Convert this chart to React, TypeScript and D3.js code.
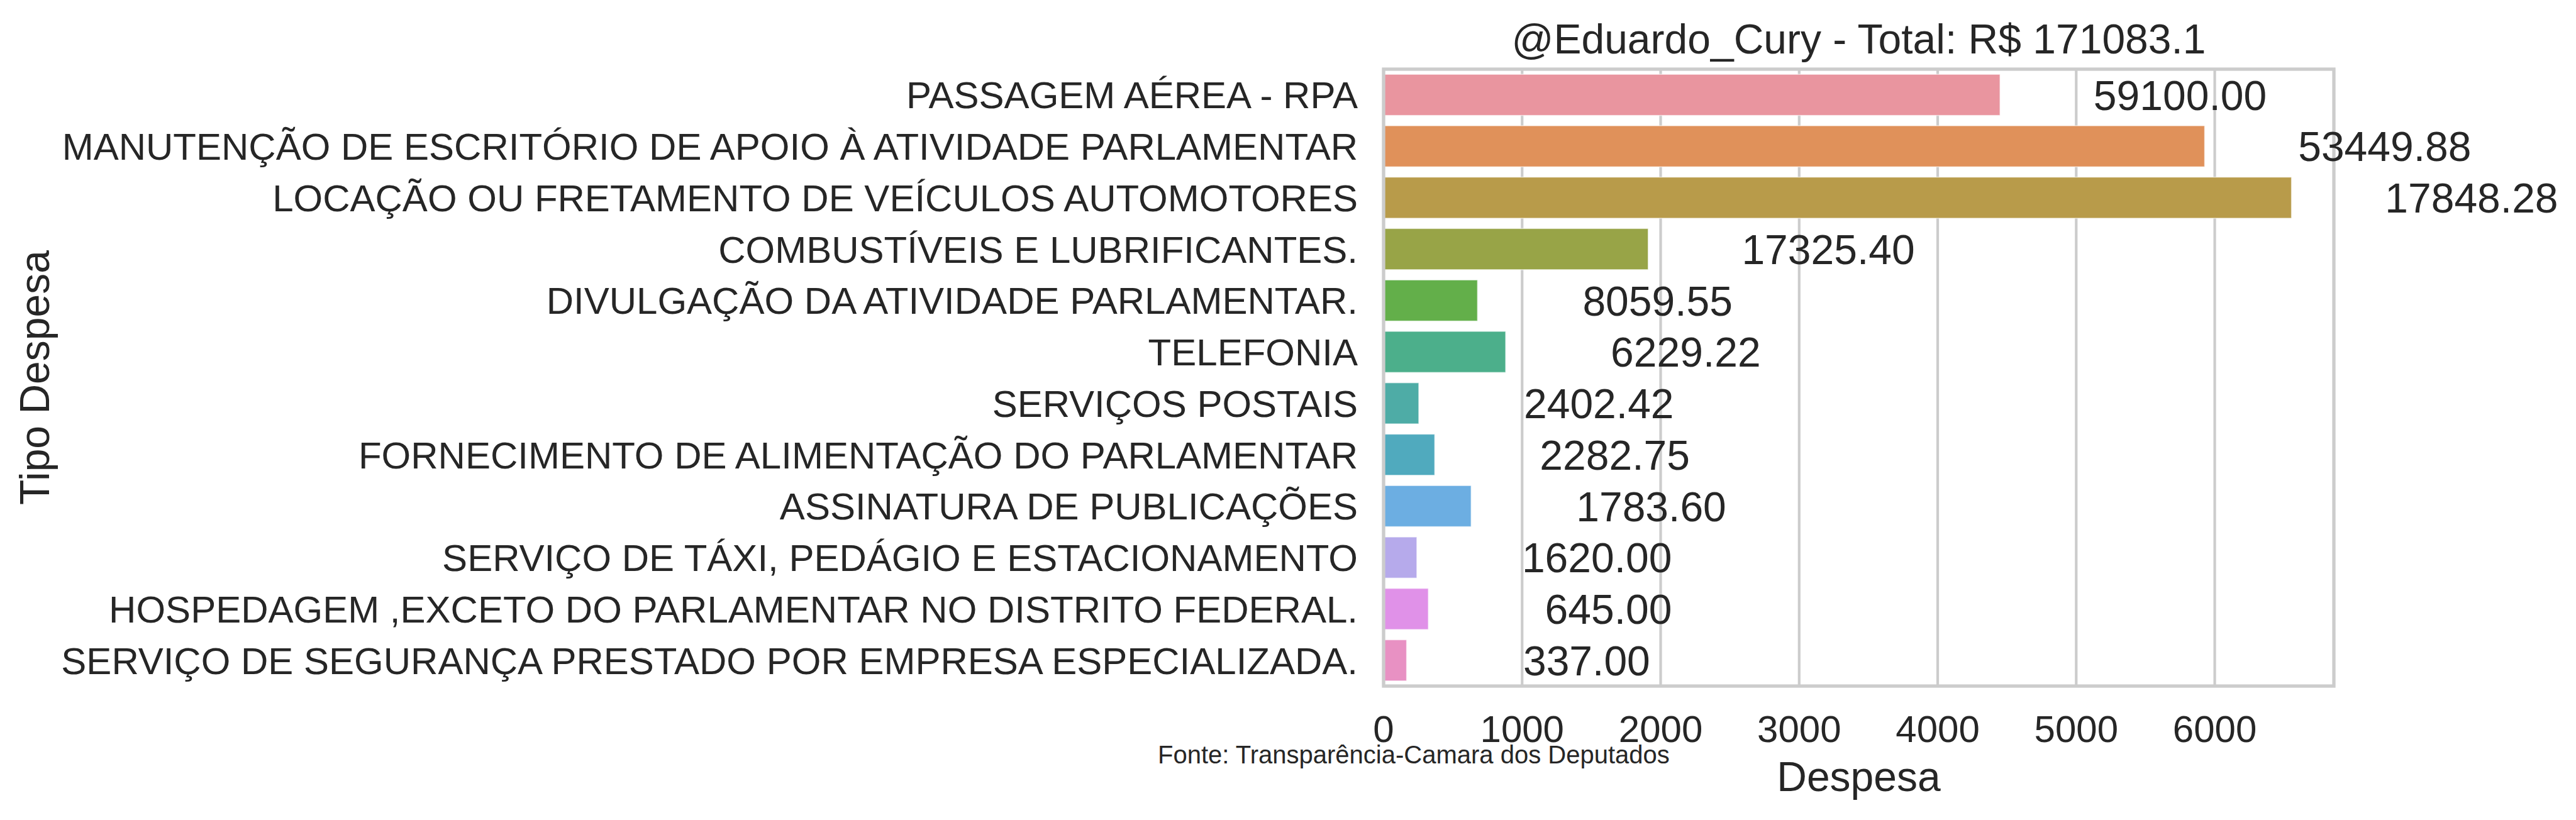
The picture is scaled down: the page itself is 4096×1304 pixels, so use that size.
// App.tsx - horizontal bar chart of expense types (seaborn-like look)
import React from 'react';
import * as d3 from 'd3';

// --- Data ---
const categories = [
  'PASSAGEM AÉREA - RPA',
  'MANUTENÇÃO DE ESCRITÓRIO DE APOIO À ATIVIDADE PARLAMENTAR',
  'LOCAÇÃO OU FRETAMENTO DE VEÍCULOS AUTOMOTORES',
  'COMBUSTÍVEIS E LUBRIFICANTES.',
  'DIVULGAÇÃO DA ATIVIDADE PARLAMENTAR.',
  'TELEFONIA',
  'SERVIÇOS POSTAIS',
  'FORNECIMENTO DE ALIMENTAÇÃO DO PARLAMENTAR',
  'ASSINATURA DE PUBLICAÇÕES',
  'SERVIÇO DE TÁXI, PEDÁGIO E ESTACIONAMENTO',
  'HOSPEDAGEM ,EXCETO DO PARLAMENTAR NO DISTRITO FEDERAL.',
  'SERVIÇO DE SEGURANÇA PRESTADO POR EMPRESA ESPECIALIZADA.',
];
// bar lengths
const barValues = [4450, 5927, 6554, 1910, 678, 881, 254, 369, 632, 240, 323, 166];
// totals printed next to bars
const totalLabels = ['59100.00', '53449.88', '17848.28', '17325.40', '8059.55', '6229.22', '2402.42', '2282.75', '1783.60', '1620.00', '645.00', '337.00'];
const barColors = ['#e9959f', '#e0915a', '#b89b4a', '#98a447', '#63af4a', '#4caf8b', '#4eaca6', '#50aabe', '#6caee2', '#b6aaeb', '#e091e8', '#e891c3'];
const xTicks = [0, 1000, 2000, 3000, 4000, 5000, 6000];
const xMax = 6860;
const labelOffset = 1300; // labels centered this far (in data units) right of the bar end
const titleText = '@Eduardo_Cury - Total: R$ 171083.1';
const sourceText = 'Fonte: Transparência-Camara dos Deputados';

// --- Layout ---
const W = 4096, H = 1304;
const left = 2200, right = 3711, top = 110, bottom = 1091;
const FONT = "Arial, 'Liberation Sans', sans-serif";
const INK = '#262626';
const fsTick = 60, fsBig = 66, fsSrc = 40;

export default function App() {
  const x = d3.scaleLinear().domain([0, xMax]).range([left, right]);
  const y = d3.scaleBand<string>().domain(categories).range([top, bottom]).paddingInner(0.2).paddingOuter(0.1);
  const bw = y.bandwidth();
  const midX = (left + right) / 2;

  return (
    <div style={{ position: 'absolute', left: 0, top: 0 }}>
      <svg width={W} height={H} style={{ display: 'block', background: '#fff' }} fontFamily={FONT}>
        {/* grid */}
        {xTicks.map(t => (
          <line key={'g' + t} x1={x(t)} x2={x(t)} y1={top} y2={bottom} stroke="#cccccc" strokeWidth={4.2} />
        ))}
        {/* bars */}
        {categories.map((c, i) => (
          <rect key={c} x={x(0)} y={y(c)} width={x(barValues[i]) - x(0)} height={bw}
            fill={barColors[i]} stroke="#ffffff" strokeOpacity={0.6} strokeWidth={1.5} />
        ))}
        {/* frame */}
        <rect x={left} y={top} width={right - left} height={bottom - top} fill="none" stroke="#cccccc" strokeWidth={5.3} />
        {/* value labels */}
        {categories.map((c, i) => (
          <text key={'v' + c} x={x(barValues[i] + labelOffset)} y={(y(c) as number) + bw / 2 + fsBig * 0.358}
            textAnchor="middle" fontSize={fsBig} fill={INK}>{totalLabels[i]}</text>
        ))}
        {/* y tick labels */}
        {categories.map(c => (
          <text key={'y' + c} x={left - 41} y={(y(c) as number) + bw / 2 + fsTick * 0.358}
            textAnchor="end" fontSize={fsTick} fill={INK}>{c}</text>
        ))}
        {/* x tick labels */}
        {xTicks.map(t => (
          <text key={'x' + t} x={x(t)} y={1180} textAnchor="middle" fontSize={fsTick} fill={INK}>{t}</text>
        ))}
        {/* titles */}
        <text x={midX} y={85} textAnchor="middle" fontSize={fsBig} fill={INK}>{titleText}</text>
        <text x={midX} y={1258} textAnchor="middle" fontSize={fsBig} fill={INK}>Despesa</text>
        <text transform={`translate(78,${(top + bottom) / 2}) rotate(-90)`} textAnchor="middle" fontSize={fsBig} fill={INK}>Tipo Despesa</text>
        <text x={1841} y={1214} fontSize={fsSrc} fill={INK}>{sourceText}</text>
      </svg>
    </div>
  );
}
